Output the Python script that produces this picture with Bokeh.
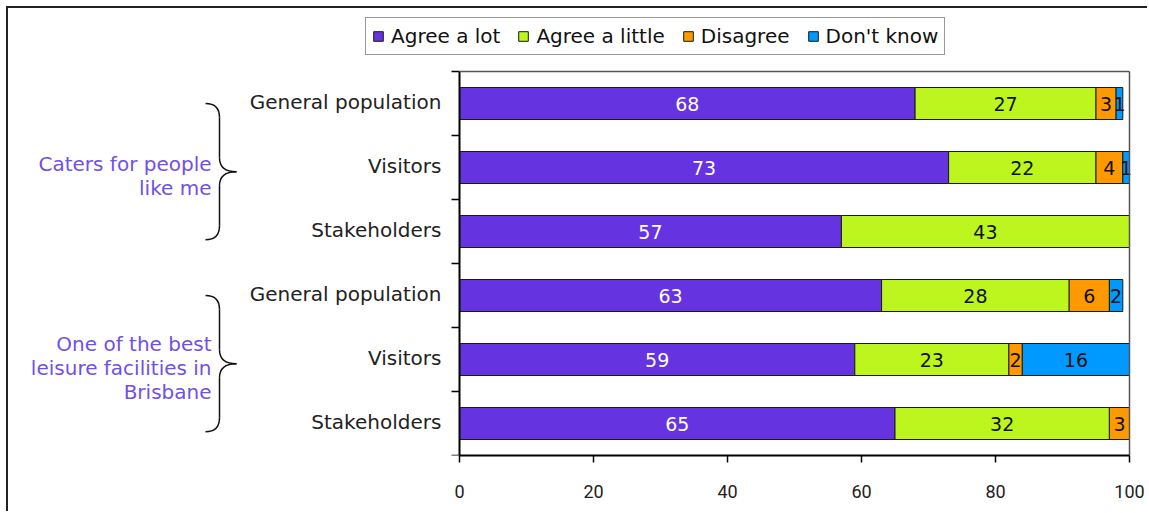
import pandas as pd
from bokeh.plotting import figure
from bokeh.models import ColumnDataSource, Range1d, FixedTicker, Legend, LegendItem
from bokeh.core.properties import value
from bokeh.embed import file_html
from bokeh.resources import INLINE

# ---------------- data ----------------
groups = ["Caters for people\nlike me", "One of the best\nleisure facilities in\nBrisbane"]
respondents = ["General population", "Visitors", "Stakeholders",
               "General population", "Visitors", "Stakeholders"]
row_group = [0, 0, 0, 1, 1, 1]
series = ["Agree a lot", "Agree a little", "Disagree", "Don't know"]
agree_lot = [68, 73, 57, 63, 59, 65]
agree_little = [27, 22, 43, 28, 23, 32]
disagree = [3, 4, 0, 6, 2, 3]
dont_know = [1, 1, 0, 2, 16, 0]
x_ticks = [0, 20, 40, 60, 80, 100]

# ---------------- styles ----------------
colors = ["#6633E0", "#BDF51E", "#FF9900", "#0099FF"]
text_colors = ["white", "#111111", "#111111", "#111111"]
FONT = "DejaVu Sans"
PX_X = 6.7     # pixels per x unit
PX_Y = 64.0    # pixels per row

n = len(respondents)
ypos = [n - 0.5 - i for i in range(n)]
keys = ["s0", "s1", "s2", "s3"]
df = pd.DataFrame({"y": ypos, "s0": agree_lot, "s1": agree_little,
                   "s2": disagree, "s3": dont_know, "label": respondents})
src = ColumnDataSource(df)

p = figure(width=1141, height=505, output_backend="svg", toolbar_location=None,
           x_range=Range1d(-451 / PX_X, 690 / PX_X), y_range=Range1d(0, 447 / PX_Y),
           y_axis_location=None, x_axis_location="below",
           min_border_left=0, min_border_right=0, min_border_top=0, min_border_bottom=58)
p.styles = {"margin-left": "6px", "margin-top": "6px",
            "border-left": "2px solid #222222", "border-top": "2px solid #222222"}
p.outline_line_color = None
p.xgrid.visible = False
p.ygrid.visible = False
p.background_fill_color = "white"
p.border_fill_color = "white"

# bars
rends = p.hbar_stack(keys, y="y", height=0.5, source=src, color=colors,
                     line_color="#1a1a1a", line_width=1)

# value labels
cum = df[keys].cumsum(axis=1)
for k, key in enumerate(keys):
    left = cum[key] - df[key]
    mid = left + df[key] / 2
    mask = df[key] > 0
    lab = ColumnDataSource(dict(x=list(mid[mask]), y=list(df["y"][mask]),
                                t=[str(v) for v in df[key][mask]]))
    p.text("x", "y", text="t", source=lab, text_align="center", text_baseline="middle",
           text_font=value(FONT), text_font_size="19px", text_color=text_colors[k])

# category labels (y axis)
p.text(x=[-2.7] * n, y=[v + 0.03 for v in ypos], text=respondents, text_align="right",
       text_baseline="middle", text_font=value(FONT), text_font_size="20px",
       text_color="#222222")

# y axis line, ticks at category boundaries, plot-area border
p.segment(x0=[0], y0=[0], x1=[0], y1=[n], line_color="black", line_width=2)
bounds = list(range(n + 1))
p.segment(x0=[-8 / PX_X] * len(bounds), y0=bounds, x1=[0] * len(bounds), y1=bounds,
          line_color="black", line_width=1.5)
p.segment(x0=[0, 100], y0=[n, 0], x1=[100, 100], y1=[n, n], line_color="#555555", line_width=1.5)

# braces and group labels
x_end, x_spine, x_tip = -254 / PX_X, -240 / PX_X, -223 / PX_X
r = 14 / PX_Y
for g, name in enumerate(groups):
    ys = [ypos[i] for i in range(n) if row_group[i] == g]
    top, bot = max(ys), min(ys) - 0.13
    mid = (top + bot) / 2
    p.quadratic(x0=[x_end, x_end], y0=[top, bot], x1=[x_spine, x_spine], y1=[top - r, bot + r],
                cx=[x_spine, x_spine], cy=[top, bot], line_color="#111111", line_width=1.5)
    p.segment(x0=[x_spine, x_spine], y0=[top - r, bot + r], x1=[x_spine, x_spine],
              y1=[mid + r, mid - r], line_color="#111111", line_width=1.5)
    p.quadratic(x0=[x_spine, x_spine], y0=[mid + r, mid - r], x1=[x_tip, x_tip], y1=[mid, mid],
                cx=[x_spine, x_spine], cy=[mid, mid], line_color="#111111", line_width=1.5)
    p.text(x=[-248 / PX_X], y=[mid - 0.07], text=[name], text_align="right",
           text_baseline="middle", text_font=value(FONT), text_font_size="20px",
           text_color="#7050E8", text_line_height=1.0)

# x axis
ax = p.xaxis[0]
ax.bounds = (0, 100)
ax.ticker = FixedTicker(ticks=x_ticks)
ax.axis_line_color = "black"
ax.axis_line_width = 2
ax.major_tick_out = 7
ax.major_tick_in = 0
ax.major_tick_line_width = 1.5
ax.minor_tick_out = 0
ax.minor_tick_in = 0
ax.major_label_standoff = 22
ax.major_label_text_font = "Roboto"
ax.major_label_text_font_size = "18px"
ax.major_label_text_color = "#222222"

# legend
legend = Legend(items=[LegendItem(label=s, renderers=[r_]) for s, r_ in zip(series, rends)],
                orientation="horizontal", location=(357, 400))
legend.label_text_font = FONT
legend.label_text_font_size = "20px"
legend.label_text_color = "#111111"
legend.label_height = 20
legend.glyph_width = 12
legend.glyph_height = 12
legend.label_standoff = 7
legend.spacing = 17
legend.padding = 6
legend.margin = 0
legend.border_line_color = "#333333"
legend.border_line_width = 1.5
legend.background_fill_alpha = 1
p.add_layout(legend)

open("out.html", "w").write(file_html(p, INLINE))
